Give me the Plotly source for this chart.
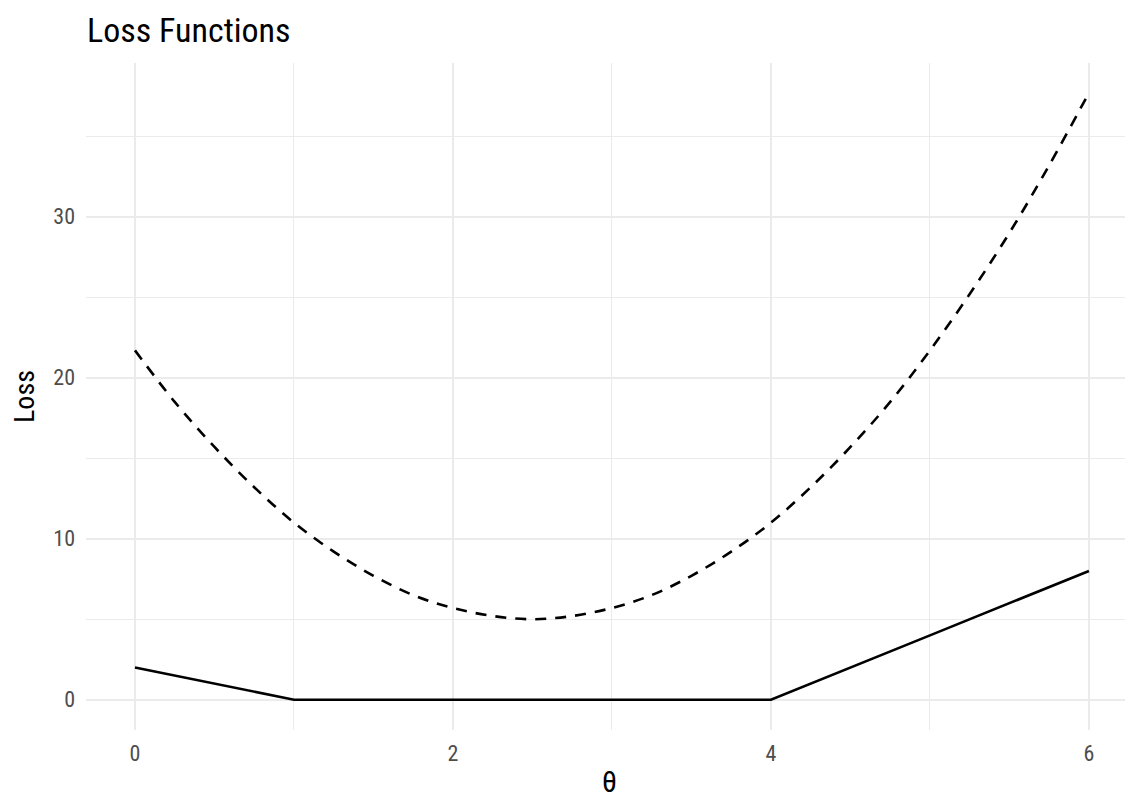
import plotly.graph_objects as go

# Data
theta_dashed = [0, 0.25, 0.5, 0.75, 1, 1.25, 1.5, 1.75, 2, 2.25, 2.5, 2.75, 3,
                3.25, 3.5, 3.75, 4, 4.25, 4.5, 4.75, 5, 5.25, 5.5, 5.75, 6]
loss_dashed = [21.7, 18.5, 15.7, 13.2, 11.0, 9.2, 7.7, 6.5, 5.7, 5.2, 5.0, 5.2, 5.7,
               6.5, 7.7, 9.2, 11.0, 13.2, 15.7, 18.5, 21.7, 25.2, 29.0, 33.2, 37.7]
theta_solid = [0, 1, 2, 3, 4, 5, 6]
loss_solid = [2, 0, 0, 0, 0, 4, 8]

x_ticks = [0, 2, 4, 6]
y_ticks = [0, 10, 20, 30]

FONT = "Roboto Condensed, Liberation Sans Narrow, Roboto, sans-serif"

fig = go.Figure()
fig.add_trace(go.Scatter(x=theta_dashed, y=loss_dashed, mode="lines",
                         line=dict(color="black", width=2.6, dash="11px,9px", shape="spline"),
                         showlegend=False, hoverinfo="skip"))
fig.add_trace(go.Scatter(x=theta_solid, y=loss_solid, mode="lines",
                         line=dict(color="black", width=2.6),
                         showlegend=False, hoverinfo="skip"))

grid = "#ebebeb"
# page body has an 8px offset; figure is sized to fit the 1133x800 window
W, H = 1125, 792
fig.update_layout(
    width=W, height=H,
    margin=dict(l=78, r=0, t=55, b=70),
    paper_bgcolor="white", plot_bgcolor="white",
    font=dict(family=FONT, color="black"),
    title=dict(text="Loss Functions", x=79/W, xanchor="left", y=1-22/H, yanchor="middle",
               font=dict(size=34, family=FONT, color="black")),
    xaxis=dict(range=[-0.308, 6.277], tickvals=x_ticks, ticktext=[str(v) for v in x_ticks],
               showgrid=True, gridcolor=grid, gridwidth=2, zeroline=False, showline=False,
               ticks="", tickfont=dict(size=22, color="#4d4d4d"), ticklabelstandoff=8,
               minor=dict(dtick=1, showgrid=True, gridcolor=grid, gridwidth=1, tick0=0),
               title=dict(text="θ", font=dict(size=30, color="black"), standoff=5)),
    yaxis=dict(range=[-1.88, 39.55], tickvals=y_ticks, ticktext=[str(v) for v in y_ticks],
               showgrid=True, gridcolor=grid, gridwidth=2, zeroline=False, showline=False,
               ticks="", tickfont=dict(size=22, color="#4d4d4d"), ticklabelstandoff=10,
               minor=dict(dtick=5, showgrid=True, gridcolor=grid, gridwidth=1, tick0=0),
               title=dict(text="Loss", font=dict(size=28, color="black"), standoff=10)),
)

fig.write_html("out.html")
